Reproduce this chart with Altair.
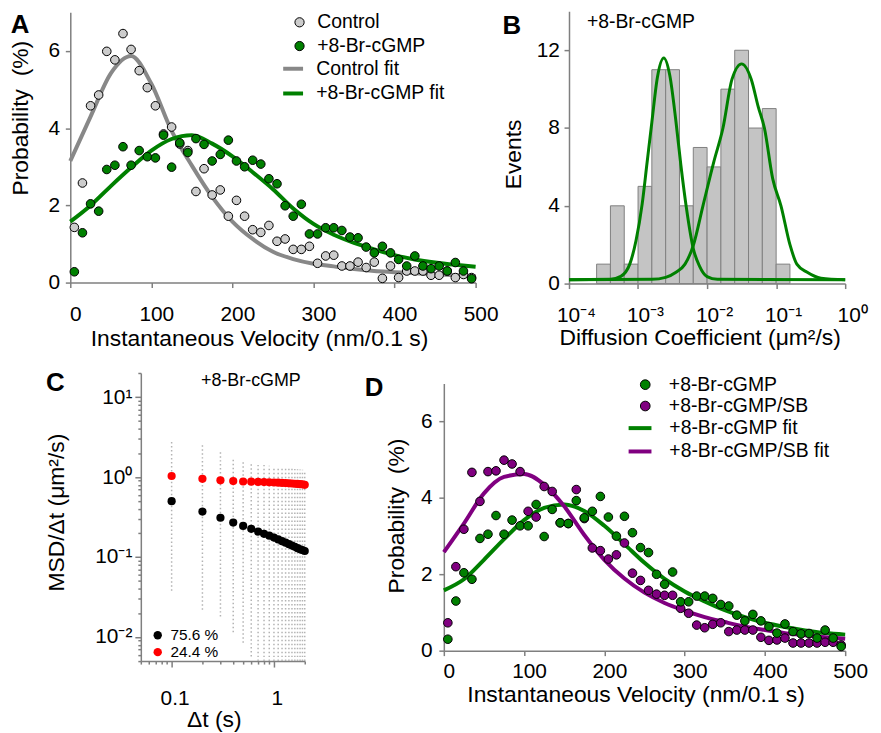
import altair as alt
import pandas as pd

FONT = "Liberation Sans"
AXC = "#7f7f7f"
GREEN = "#008000"
PURPLE = "#800080"
GRAYLINE = "#888888"
LIGHT = "#cccccc"

# ---------------- Panel A : velocity distributions ----------------
velocity = list(range(5, 500, 10))
control_pts = [1.43, 2.58, 4.58, 4.86, 5.99, 5.77, 6.45, 6.04, 5.49, 5.05,
               4.58, 3.85, 4.03, 3.59, 3.42, 2.36, 2.95, 2.27, 2.40, 1.72,
               2.13, 1.72, 1.37, 1.30, 1.48, 1.07, 1.13, 0.86, 0.86, 0.94,
               0.50, 0.69, 0.71, 0.43, 0.43, 0.53, 0.39, 0.53, 0.11, 0.43,
               0.13, 0.30, 0.30, 0.30, 0.19, 0.19, 0.30, 0.13, 0.21, 0.13]
brc_pts_A = [0.28, 1.29, 2.04, 1.85, 2.93, 3.04, 3.52, 3.04, 3.42, 3.26,
             3.23, 3.82, 2.99, 3.62, 3.37, 3.73, 3.58, 3.15, 3.32, 3.69,
             3.15, 3.00, 3.17, 3.07, 2.69, 2.56, 1.99, 1.72, 2.03, 1.26,
             1.26, 1.42, 1.42, 1.35, 1.18, 1.16, 0.92, 0.77, 0.94, 0.77,
             0.60, 0.43, 0.69, 0.43, 0.36, 0.43, 0.30, 0.52, 0.30, 0.10]
fit_velocity = list(range(0, 501, 25))
control_fit = [3.15, 4.30, 5.42, 5.87, 5.15, 3.93, 3.03, 2.22, 1.58, 1.13, 0.80,
               0.61, 0.49, 0.42, 0.35, 0.30, 0.27, 0.24, 0.22, 0.19, 0.17]
brc_fit_A = [1.58, 2.00, 2.50, 2.98, 3.42, 3.72, 3.82, 3.60, 3.27, 2.86, 2.42,
             1.92, 1.52, 1.24, 1.03, 0.86, 0.71, 0.60, 0.52, 0.46, 0.41]

# ---------------- Panel B : diffusion coefficient histogram ----------------
bin_start_exp = [-3.6, -3.4, -3.2, -3.0, -2.8, -2.6, -2.4, -2.2, -2.0, -1.8, -1.6, -1.4, -1.2, -1.0]
bin_counts = [1, 4, 1, 5, 11, 11, 4, 7, 6, 10, 12, 8, 9, 1]
BIN_W = 0.2
fit1_exp = [-4.0, -3.4, -3.25, -3.12, -3.03, -2.94, -2.87, -2.80, -2.72, -2.627,
            -2.54, -2.45, -2.38, -2.30, -2.20, -2.11, -2.00, -1.85, 0.0]
fit1_val = [0.2, 0.22, 0.37, 1.0, 2.2, 4.1, 6.2, 8.3, 10.6, 11.6,
            10.7, 8.3, 6.1, 3.9, 1.8, 0.9, 0.36, 0.22, 0.2]
fit2_exp = [-4.0, -2.8, -2.6, -2.45, -2.32, -2.2, -2.06, -1.9, -1.77, -1.64, -1.50,
            -1.36, -1.26, -1.17, -1.05, -0.93, -0.8, -0.7, -0.55, -0.35, 0.0]
fit2_val = [0.2, 0.22, 0.32, 0.58, 1.0, 1.96, 4.0, 6.3, 8.0, 10.5, 11.3,
            10.5, 9.1, 8.0, 5.4, 4.0, 2.0, 1.0, 0.58, 0.28, 0.2]

# ---------------- Panel C : MSD/dt ----------------
dt = [0.1, 0.2, 0.3, 0.4, 0.5, 0.6, 0.7, 0.8, 0.9, 1.0,
      1.1, 1.2, 1.3, 1.4, 1.5, 1.6, 1.7, 1.8, 1.9, 2.0]
msd_slow = [0.50, 0.37, 0.31, 0.27, 0.245, 0.225, 0.208, 0.195, 0.185, 0.175,
            0.166, 0.158, 0.151, 0.145, 0.139, 0.134, 0.129, 0.125, 0.122, 0.119]
msd_fast = [1.03, 0.95, 0.91, 0.89, 0.88, 0.875, 0.87, 0.865, 0.86, 0.855,
            0.85, 0.845, 0.84, 0.835, 0.83, 0.825, 0.82, 0.815, 0.81, 0.80]
cloud_lo = [0.038, 0.022, 0.018, 0.0115, 0.0085, 0.0057, 0.005, 0.005, 0.005, 0.005,
            0.005, 0.005, 0.005, 0.005, 0.005, 0.005, 0.005, 0.005, 0.005, 0.005]
cloud_hi = [2.8, 2.5, 2.1, 1.65, 1.58, 1.53, 1.46, 1.42, 1.38, 1.35,
            1.32, 1.30, 1.29, 1.28, 1.27, 1.26, 1.25, 1.24, 1.23, 1.22]
class_labels = ["75.6 %", "24.4 %"]

# ---------------- Panel D : velocity distributions ----------------
brc_pts_D = [0.30, 1.30, 2.04, 1.87, 2.94, 3.05, 3.54, 3.05, 3.42, 3.27,
             3.27, 3.83, 2.99, 3.70, 3.35, 3.33, 3.93, 3.48, 3.65, 4.04,
             3.50, 3.00, 3.52, 3.09, 2.70, 2.57, 2.00, 1.74, 2.06, 1.28,
             1.28, 1.43, 1.43, 1.37, 1.21, 1.17, 0.93, 0.78, 0.95, 0.78,
             0.63, 0.46, 0.70, 0.50, 0.44, 0.45, 0.33, 0.54, 0.33, 0.11]
sb_pts_D = [0.73, 2.20, 3.18, 4.67, 3.91, 4.69, 4.71, 4.99, 4.89, 4.69,
            3.65, 3.50, 4.30, 4.17, 3.35, 3.33, 4.22, 3.46, 2.69, 2.62,
            2.40, 2.51, 2.82, 2.03, 1.84, 1.58, 1.48, 1.45, 1.45, 1.11,
            0.98, 0.67, 0.60, 0.69, 0.73, 0.50, 0.54, 0.54, 0.54, 0.35,
            0.27, 0.28, 0.33, 0.20, 0.20, 0.20, 0.20, 0.22, 0.22, 0.15]
brc_fit_D = [1.58, 1.87, 2.38, 2.92, 3.42, 3.74, 3.83, 3.66, 3.27, 2.79, 2.30,
             1.88, 1.55, 1.29, 1.06, 0.88, 0.73, 0.62, 0.53, 0.46, 0.42]
sb_fit_D = [2.58, 3.33, 4.12, 4.55, 4.63, 4.35, 3.78, 3.03, 2.38, 1.89, 1.52,
            1.25, 1.05, 0.88, 0.75, 0.63, 0.54, 0.46, 0.40, 0.35, 0.31]


# ---------------- helpers ----------------
def letter(txt, dx, offset):
    return alt.TitleParams(txt, anchor="start", frame="group", orient="top", offset=offset,
                           baseline="alphabetic", dx=dx, font=FONT, fontSize=26,
                           fontWeight="bold", color="black")


def point_legend(x, y, size, offset, pad, fs=19.5, stroke=1):
    return alt.Legend(orient="none", legendX=x, legendY=y, title=None, padding=0,
                      symbolType="circle", symbolSize=size, symbolStrokeColor="black",
                      symbolStrokeWidth=stroke, symbolOpacity=1, labelFontSize=fs,
                      labelFont=FONT, labelColor="black", labelOffset=offset,
                      rowPadding=pad, labelLimit=400)


def line_legend(x, y, size, offset, pad):
    return alt.Legend(orient="none", legendX=x, legendY=y, title=None, padding=0,
                      symbolType="stroke", symbolSize=size, symbolStrokeWidth=4,
                      labelFontSize=19.5, labelFont=FONT, labelColor="black",
                      labelOffset=offset, rowPadding=pad, labelLimit=400)


def spacer(w):
    return alt.Chart(pd.DataFrame({"z": [0]})).mark_point(opacity=0).encode(
        x=alt.X("z:Q", axis=None), y=alt.Y("z:Q", axis=None)
    ).properties(width=w, height=1)


def velocity_panel(draw, fit_list, legend_names, legend_colors, fitnames, fitcolors,
                   w, h, xlab_pad, xlab_off, xtitle_x, xtitle_y, ytitle_x, ytitle_y,
                   ylab_pad, leg_pts, leg_lines, title):
    xenc = alt.X("v:Q", scale=alt.Scale(domain=[0, 500], nice=False, zero=False),
                 axis=alt.Axis(values=[0, 100, 200, 300, 400, 500], tickSize=5,
                               labelPadding=xlab_pad, labelOffset=xlab_off,
                               title="Instantaneous Velocity (nm/0.1 s)",
                               titleX=xtitle_x, titleY=xtitle_y, titleAlign="center",
                               titleBaseline="alphabetic"))
    yenc = alt.Y("p:Q", scale=alt.Scale(domain=[0, 7], nice=False),
                 axis=alt.Axis(values=[0, 2, 4, 6], tickSize=5, labelPadding=ylab_pad,
                               title="Probability\u00a0 (%)", titleX=ytitle_x,
                               titleY=ytitle_y, titleAngle=270, titleAlign="center",
                               titleBaseline="alphabetic"))
    fill = alt.Fill("s:N", scale=alt.Scale(domain=legend_names, range=legend_colors),
                    legend=leg_pts)
    fit_df = pd.DataFrame({
        "v": fit_velocity * len(fit_list),
        "p": sum(fit_list, []),
        "s": sum([[n] * len(fit_velocity) for n in fitnames], []),
    })
    lines = alt.Chart(fit_df).mark_line(strokeWidth=4, interpolate="monotone").encode(
        x=xenc, y=yenc,
        stroke=alt.Stroke("s:N", scale=alt.Scale(domain=fitnames, range=fitcolors),
                          legend=leg_lines))
    layers = [lines]
    for vals, name in draw:
        df = pd.DataFrame({"v": velocity, "p": vals, "s": name})
        layers.append(alt.Chart(df).mark_circle(size=75, opacity=1, stroke="black",
                                                strokeWidth=1).encode(x=xenc, y=yenc, fill=fill))
    return alt.layer(*layers).properties(width=w, height=h, title=title)


# ---------------- Panel A ----------------
panelA = velocity_panel(
    [(control_pts, "Control"), (brc_pts_A, "+8-Br-cGMP")],
    [control_fit, brc_fit_A],
    ["Control", "+8-Br-cGMP"], [LIGHT, GREEN],
    ["Control fit", "+8-Br-cGMP fit"], [GRAYLINE, GREEN],
    408, 272, 16.5, 5, 190, 63.5, -42.7, 106, 5.7,
    point_legend(221, 0.25, 86, 8, 2.9),
    line_legend(212.3, 44.75, 400, 11.2, 2.9),
    letter("A", -60, -46.5))

# ---------------- Panel B ----------------
dfB = pd.DataFrame({"lo": [10 ** e for e in bin_start_exp],
                    "hi": [10 ** (e + BIN_W) for e in bin_start_exp],
                    "n": bin_counts})
xB = alt.X("lo:Q", scale=alt.Scale(type="log", domain=[1e-4, 1], nice=False),
           axis=alt.Axis(values=[1e-4, 1e-3, 1e-2, 1e-1, 1], tickSize=5, labelPadding=16.2,
                         labelOffset=7,
                         labelExpr="datum.value < 0.0005 ? '10\u207b\u2074' : datum.value < 0.005 ? '10\u207b\u00b3' : datum.value < 0.05 ? '10\u207b\u00b2' : datum.value < 0.5 ? '10\u207b\u00b9' : '10\u2070'",
                         title="Diffusion Coefficient (\u03bcm\u00b2/s)", titleX=131.5, titleY=61.2,
                         titleAlign="center", titleBaseline="alphabetic"))
yB = alt.Y("n:Q", scale=alt.Scale(domain=[0, 14], nice=False),
           axis=alt.Axis(values=[0, 4, 8, 12], tickSize=5, labelPadding=4.7, title="Events",
                         titleX=-49, titleY=143.5, titleAngle=270, titleAlign="center",
                         titleBaseline="alphabetic"))
barsB = alt.Chart(dfB).mark_bar(fill="#c4c4c4", stroke="#808080", strokeWidth=1).encode(
    x=xB, x2="hi:Q", y=yB, y2=alt.datum(0))
fitB_df = pd.DataFrame({
    "lo": [10 ** e for e in fit1_exp] + [10 ** e for e in fit2_exp],
    "n": fit1_val + fit2_val,
    "c": ["p1"] * len(fit1_exp) + ["p2"] * len(fit2_exp)})
linesB = alt.Chart(fitB_df).mark_line(color=GREEN, strokeWidth=3, interpolate="monotone").encode(
    x=xB, y=yB, detail="c:N")
textB = alt.Chart(pd.DataFrame({"t": ["+8-Br-cGMP"]})).mark_text(
    align="left", baseline="alphabetic", font=FONT, fontSize=19.5, color="black").encode(
    x=alt.datum(1.815e-4), y=alt.datum(13.16), text="t:N")
panelB = alt.layer(barsB, linesB, textB).properties(width=278, height=274,
                                                     title=letter("B", -67, -48.5))

# ---------------- Panel C ----------------
x_ticks_C = [0.05, 0.06, 0.07, 0.08, 0.09, 0.1, 0.2, 0.3, 0.4, 0.5, 0.6, 0.7, 0.8, 0.9, 1, 2]
y_ticks_C = [0.005, 0.006, 0.007, 0.008, 0.009,
             0.01, 0.02, 0.03, 0.04, 0.05, 0.06, 0.07, 0.08, 0.09,
             0.1, 0.2, 0.3, 0.4, 0.5, 0.6, 0.7, 0.8, 0.9,
             1, 2, 3, 4, 5, 6, 7, 8, 9, 10, 20]
xC = alt.X("t:Q", scale=alt.Scale(type="log", domain=[0.05, 2], nice=False),
           axis=alt.Axis(values=x_ticks_C,
                         labelExpr="datum.value == 0.1 ? '0.1' : (datum.value == 1 ? '1' : '')",
                         tickSize={"condition": {"test": "datum.value == 0.1 || datum.value == 1",
                                                 "value": 6}, "value": 3},
                         labelPadding=20.4, labelOffset=3, title="\u0394t (s)", titleX=73.5,
                         titleY=66, titleAlign="center", titleBaseline="alphabetic"))
yC = alt.Y("m:Q", scale=alt.Scale(type="log", domain=[0.005, 20], nice=False),
           axis=alt.Axis(values=y_ticks_C,
                         labelExpr="datum.value == 10 ? '10\u00b9' : datum.value == 1 ? '10\u2070' : datum.value == 0.1 ? '10\u207b\u00b9' : datum.value == 0.01 ? '10\u207b\u00b2' : ''",
                         tickSize={"condition": {"test": "datum.value == 0.01 || datum.value == 0.1 || datum.value == 1 || datum.value == 10",
                                                 "value": 6}, "value": 3},
                         labelPadding=3, title="MSD/\u0394t (\u03bcm\u00b2/s)", titleX=-78,
                         titleY=140, titleAngle=270, titleAlign="center",
                         titleBaseline="alphabetic"))
cloud_df = pd.DataFrame({"t": dt, "m": cloud_lo, "m2": cloud_hi})
cloudC = alt.Chart(cloud_df).mark_rule(color="#b3b3b3", strokeWidth=1.5,
                                       strokeDash=[1.5, 2.5]).encode(x=xC, y=yC, y2="m2:Q")
ptsC_df = pd.DataFrame({"t": dt * 2, "m": msd_slow + msd_fast,
                        "k": [class_labels[0]] * len(dt) + [class_labels[1]] * len(dt)})
ptsC = alt.Chart(ptsC_df).mark_circle(size=68, opacity=1).encode(
    x=xC, y=yC,
    color=alt.Color("k:N", scale=alt.Scale(domain=class_labels, range=["black", "#ff0000"]),
                    legend=point_legend(9.25, 256.25, 71, 5, 0, fs=15.5, stroke=0)))
textC = alt.Chart(pd.DataFrame({"t": ["+8-Br-cGMP"]})).mark_text(
    align="right", baseline="alphabetic", font=FONT, fontSize=18, color="black").encode(
    x=alt.datum(1.83), y=alt.datum(13.8), text="t:N")
panelC = alt.layer(cloudC, ptsC, textC).properties(width=165, height=290,
                                                    title=letter("C", -95.5, -54.9))

# ---------------- Panel D ----------------
panelD = velocity_panel(
    [(sb_pts_D, "+8-Br-cGMP/SB"), (brc_pts_D, "+8-Br-cGMP")],
    [brc_fit_D, sb_fit_D],
    ["+8-Br-cGMP", "+8-Br-cGMP/SB"], [GREEN, PURPLE],
    ["+8-Br-cGMP fit", "+8-Br-cGMP/SB fit"], [GREEN, PURPLE],
    404, 269, 5, 5, 193, 51.5, -41, 133, 6.7,
    point_legend(193, -8.5, 95, 14, 0.5),
    line_legend(184, 31.5, 529, 16, 0.5),
    letter("D", -79.5, -46.8))

indep = dict(fill="independent", stroke="independent", color="independent")

row1 = alt.hconcat(panelA, spacer(94), panelB, spacing=0, bounds="flush",
                   center=True).resolve_scale(**indep).resolve_legend(**indep)
row2 = alt.hconcat(spacer(71), panelC, spacer(140), panelD, spacing=0, bounds="flush",
                   center=True).resolve_scale(**indep).resolve_legend(**indep)

chart = alt.vconcat(row1, row2, spacing=10).resolve_scale(**indep).resolve_legend(**indep).properties(
    padding={"left": 0.7, "top": 0, "right": 4, "bottom": 0}
).configure(
    background="white", font=FONT
).configure_view(
    stroke="transparent"
).configure_axis(
    grid=False, domainColor=AXC, tickColor=AXC, domainWidth=1.5, tickWidth=1.5,
    labelColor="black", titleColor="black", labelFont=FONT, titleFont=FONT,
    labelFontSize=21, titleFontSize=23, titleFontWeight="normal",
    labelFlush=False, labelOverlap=False
)

chart.save("out.html", embed_options={"renderer": "svg", "actions": False})
